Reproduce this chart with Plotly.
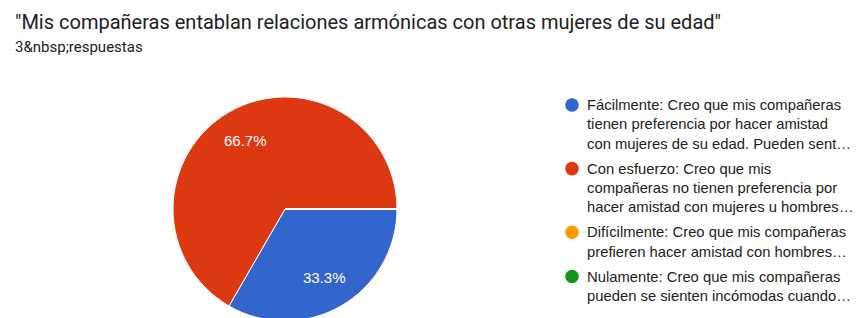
import math
import plotly.graph_objects as go

W, H = 857, 330  # window is 318 tall; the pie's bottom edge is cut off like the reference

title_text = '"Mis compañeras entablan relaciones armónicas con otras mujeres de su edad"'
subtitle_text = "3&amp;nbsp;respuestas"

categories = [
    "Fácilmente",
    "Con esfuerzo",
    "Difícilmente",
    "Nulamente",
]
values = [1, 2, 0, 0]
colors = ["#3366cc", "#dc3912", "#ff9900", "#109618"]
legend_lines = [
    ["Fácilmente: Creo que mis compañeras",
     "tienen preferencia por hacer amistad",
     "con mujeres de su edad. Pueden sent…"],
    ["Con esfuerzo: Creo que mis",
     "compañeras no tienen preferencia por",
     "hacer amistad con mujeres u hombres…"],
    ["Difícilmente: Creo que mis compañeras",
     "prefieren hacer amistad con hombres…"],
    ["Nulamente: Creo que mis compañeras",
     "pueden se sienten incómodas cuando…"],
]

# pie geometry (pixels)
cx, cy, r = 285, 209, 112
start_angle = 90  # degrees clockwise from 12 o'clock

fig = go.Figure()
fig.add_trace(go.Pie(
    labels=categories,
    values=values,
    sort=False,
    direction="clockwise",
    rotation=start_angle,
    marker=dict(colors=colors, line=dict(color="white", width=1)),
    textinfo="none",
    showlegend=False,
    hoverinfo="label+value+percent",
    domain=dict(x=[(cx - r) / W, (cx + r) / W], y=[1 - (cy + r) / H, 1 - (cy - r) / H]),
))

annotations = [
    dict(text=title_text, x=13 / W, y=1 - 22 / H, xref="paper", yref="paper",
         xanchor="left", yanchor="middle", showarrow=False,
         font=dict(family="Roboto, Arial", size=20, color="#202124")),
    dict(text=subtitle_text, x=13 / W, y=1 - 47 / H, xref="paper", yref="paper",
         xanchor="left", yanchor="middle", showarrow=False,
         font=dict(family="Roboto, Arial", size=15, color="#202124")),
]

# percentage labels placed inside each slice, derived from the values
total = sum(values)
cum = 0.0
for v in values:
    if v > 0:
        mid = start_angle + 360 * (cum + v / 2) / total
        d = 0.71 * r
        px = cx + d * math.sin(math.radians(mid))
        py = cy - d * math.cos(math.radians(mid))
        annotations.append(dict(text=f"{100 * v / total:.1f}%", x=px / W, y=1 - py / H,
                                xref="paper", yref="paper", xanchor="center", yanchor="middle",
                                showarrow=False,
                                font=dict(family="Liberation Sans, Arial", size=15, color="white")))
    cum += v

shapes = []
y = 105
line_step = 19.3
item_gap = 25
for i, lines in enumerate(legend_lines):
    shapes.append(dict(type="circle", xref="paper", yref="paper",
                       x0=(572 - 6.8) / W, x1=(572 + 6.8) / W,
                       y0=1 - (y + 6.8) / H, y1=1 - (y - 6.8) / H,
                       fillcolor=colors[i], line=dict(width=0)))
    for j, ln in enumerate(lines):
        annotations.append(dict(text=ln, x=585 / W, y=1 - (y + j * line_step) / H,
                                xref="paper", yref="paper", xanchor="left", yanchor="middle",
                                showarrow=False,
                                font=dict(family="Liberation Sans, Arial", size=14.8, color="#222222")))
    y += (len(lines) - 1) * line_step + item_gap

fig.update_layout(
    width=W, height=H,
    margin=dict(l=0, r=0, t=0, b=0),
    paper_bgcolor="white", plot_bgcolor="white",
    annotations=annotations, shapes=shapes,
)

fig.write_html(
    "out.html",
    config={"displayModeBar": False},
    post_script=(
        "document.body.style.margin='0';"
        "document.body.style.overflow='hidden';"
        "document.documentElement.style.overflow='hidden';"
    ),
)
